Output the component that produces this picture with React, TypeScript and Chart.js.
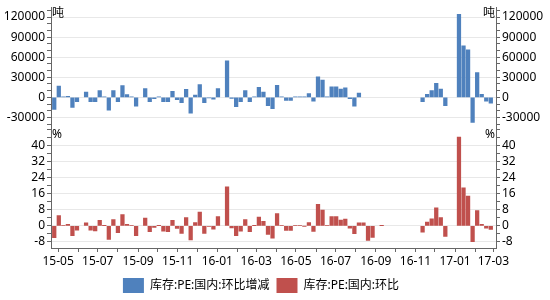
import React, { useEffect, useRef } from 'react';
import { Chart, registerables } from 'chart.js';

Chart.register(...registerables);

// ---------- data ----------
const firstWeek = '2015-04-25';
const axisStart = '2015-04-20';
const axisEnd = '2017-03-05';

const seriesNames = ['库存:PE:国内:环比增减', '库存:PE:国内:环比'];
const units = ['吨', '%'];

// weekly change in tonnes
const tonChange: (number | null)[] = [
  -18000, 17000, 1000, 1500, -15000, -6500, null, 8000, -6500, -6500,
  10000, 500, -19000, 10000, -6500, 17500, 4000, 1000, -13000, null,
  13000, -6500, -2000, 500, -6500, -6500, 9000, -3500, -8000, 12000,
  -23500, 3500, 19000, -8000, -1000, -2500, 13000, null, 54600, -1500,
  -14000, -6500, 10000, -6500, 500, 15000, 8000, -12500, -17000, 18000,
  1000, -4500, -4500, 500, 1000, 800, 5800, -5500, 30800, 25800,
  500, 15800, 15800, 12500, 14400, -2000, -13000, 6500, null, null,
  null, null, null, null, null, null, null, null, null, null,
  null, -6500, 4500, 10000, 21000, 12300, -12300, null, null, 124000,
  77000, 71000, -37500, 37000, 4500, -5500, -8500,
];

// weekly change in percent
const pctChange: (number | null)[] = [
  -5.8, 5.2, 0.3, 0.8, -4.9, -2.1, null, 1.5, -2.1, -2.5,
  2.8, 0.1, -6.7, 3.1, -3.4, 5.6, 0.8, 0.3, -4.9, null,
  3.9, -2.9, -0.8, 0.1, -2.6, -2.9, 2.8, -1.3, -3.8, 4.1,
  -7.0, 1.6, 6.9, -3.8, -0.2, -1.6, 4.7, null, 19.5, -1.0,
  -4.9, -2.6, 3.1, -2.9, 0.1, 4.4, 2.3, -4.2, -6.1, 6.1,
  0.3, -2.3, -2.3, 0.2, 0.2, -0.1, 1.6, -2.8, 10.8, 7.9,
  0.2, 4.6, 4.6, 2.9, 3.4, -1.1, -3.9, 1.5, 1.5, -7.2,
  -5.7, null, 0.1, null, null, null, null, null, null, null,
  null, -3.1, 1.9, 3.5, 9.0, 4.1, -5.2, null, null, 44.2,
  19.0, 14.8, -7.8, 7.6, 0.8, -1.1, -1.8,
];

const monthTicks = [
  '2015-05', '2015-06', '2015-07', '2015-08', '2015-09', '2015-10', '2015-11', '2015-12',
  '2016-01', '2016-02', '2016-03', '2016-04', '2016-05', '2016-06', '2016-07', '2016-08',
  '2016-09', '2016-10', '2016-11', '2016-12', '2017-01', '2017-02', '2017-03',
];

const topMajor = [-30000, 0, 30000, 60000, 90000, 120000];
const topRange = [-45000, 135000];
const topMinorStep = 10000;
const botMajor = [-8, 0, 8, 16, 24, 32, 40];
const botRange = [-11, 49];
const botMinorStep = 4;

// ---------- helpers ----------
const DAY = 86400000;
function dayNum(iso: string) {
  const [y, m, d] = iso.split('-').map(Number);
  return Date.UTC(y, m - 1, d || 1) / DAY;
}
const weekDays = tonChange.map((_, i) => dayNum(firstWeek) + 7 * i);

const FONT_FAMILY = '"Noto Sans", "Noto Sans CJK SC", sans-serif';
const font = { family: FONT_FAMILY, size: 12 };
const AXIS = '#666';
const GRID = '#E8E8E8';

function yScale(position: 'left' | 'right', range: number[], majors: number[], minorStep: number, stack: string, weight: number, grid: boolean) {
  return {
    type: 'linear',
    position,
    stack,
    stackWeight: 1,
    weight,
    min: range[0],
    max: range[1],
    afterBuildTicks: (s: any) => {
      const t: any[] = [];
      for (let v = Math.ceil(range[0] / minorStep) * minorStep; v <= range[1]; v += minorStep) t.push({ value: v });
      s.ticks = t;
    },
    afterFit: (s: any) => {
      s.width = position === 'left' ? 51 : 54;
      s.paddingTop = 0;
      s.paddingBottom = 0;
    },
    ticks: {
      autoSkip: false,
      padding: 2,
      color: '#000',
      font,
      callback: (v: number) => (majors.includes(v) ? String(v) : ''),
    },
    grid: {
      drawOnChartArea: grid,
      color: (c: any) => (c.tick && majors.includes(c.tick.value) ? GRID : 'rgba(0,0,0,0)'),
      tickColor: AXIS,
      tickLength: 4,
    },
    border: { display: true, color: AXIS },
  };
}

const unitPlugin = {
  id: 'unitLabels',
  afterDraw(chart: any) {
    const ctx = chart.ctx;
    ctx.save();
    ctx.font = `12px ${FONT_FAMILY}`;
    ctx.fillStyle = '#000';
    ctx.textBaseline = 'top';
    const pairs: [string, string, string][] = [
      ['yTop', 'yTopR', units[0]],
      ['yBot', 'yBotR', units[1]],
    ];
    for (const [l, r, u] of pairs) {
      const sl = chart.scales[l];
      const sr = chart.scales[r];
      ctx.textAlign = 'left';
      ctx.fillText(u, sl.right + 1, sl.top + 1);
      ctx.textAlign = 'right';
      ctx.fillText(u, sr.left - 1, sr.top + 1);
    }
    ctx.restore();
  },
};

const legendShift = {
  id: 'legendShift',
  afterLayout(chart: any) {
    if (chart.legend) {
      chart.legend.left -= 14;
      chart.legend.right -= 14;
      chart.legend.top += 3;
      chart.legend.bottom += 3;
    }
  },
};

export default function App() {
  const ref = useRef<HTMLCanvasElement>(null);
  useEffect(() => {
    const chart = new Chart(ref.current as HTMLCanvasElement, {
      type: 'bar',
      data: {
        datasets: [
          {
            label: seriesNames[0],
            data: weekDays.map((d, i) => ({ x: d, y: tonChange[i] })) as any,
            backgroundColor: '#4F81BD',
            borderWidth: 0,
            yAxisID: 'yTop',
            xAxisID: 'x',
            grouped: false,
            barThickness: 3.6,
          },
          {
            label: seriesNames[1],
            data: weekDays.map((d, i) => ({ x: d, y: pctChange[i] })) as any,
            backgroundColor: '#C0504D',
            borderWidth: 0,
            yAxisID: 'yBot',
            xAxisID: 'x',
            grouped: false,
            barThickness: 3.6,
          },
        ],
      },
      options: {
        animation: false,
        responsive: false,
        events: [],
        layout: { padding: { top: 7, left: 0, right: 0, bottom: 0 } },
        scales: {
          x: {
            type: 'linear',
            position: 'bottom',
            min: dayNum(axisStart),
            max: dayNum(axisEnd),
            offset: false,
            afterBuildTicks: (s: any) => {
              s.ticks = monthTicks.map((m) => ({ value: dayNum(m + '-01') }));
            },
            afterFit: (s: any) => {
              s.height = 20;
              s.paddingLeft = 0;
              s.paddingRight = 0;
            },
            ticks: {
              autoSkip: false,
              maxRotation: 0,
              padding: 2,
              color: '#000',
              font,
              callback: (_v: any, i: number) => (i % 2 === 0 ? monthTicks[i].slice(2) : ''),
            },
            grid: { drawOnChartArea: false, offset: false, color: AXIS, tickLength: 4 },
            border: { display: true, color: AXIS },
          },
          yTop: yScale('left', topRange, topMajor, topMinorStep, 'L', 1, true),
          yBot: yScale('left', botRange, botMajor, botMinorStep, 'L', 0, true),
          yTopR: yScale('right', topRange, topMajor, topMinorStep, 'R', 0, false),
          yBotR: yScale('right', botRange, botMajor, botMinorStep, 'R', 1, false),
        } as any,
        plugins: {
          legend: {
            position: 'bottom',
            labels: { boxWidth: 21, boxHeight: 15, padding: 7, color: '#000', font },
          },
          tooltip: { enabled: false },
        },
      },
      plugins: [unitPlugin, legendShift],
    } as any);
    return () => chart.destroy();
  }, []);
  return (
    <div style={{ position: 'absolute', left: 0, top: 0, width: 550, height: 300, background: '#fff' }}>
      <canvas ref={ref} width={550} height={300} style={{ display: 'block' }} />
    </div>
  );
}
